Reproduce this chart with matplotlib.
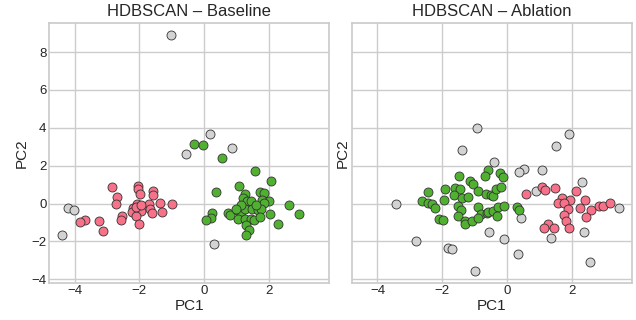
import matplotlib
matplotlib.use("Agg")
import matplotlib.pyplot as plt
import seaborn as sns

sns.set_theme(style="whitegrid")
plt.rcParams['font.family'] = ['Liberation Sans', 'DejaVu Sans']

red = "#f77189"
green = "#50b131"
grey = "#d3d3d3"

# Baseline clusters
base_noise_x = [-4.20, -4.03, -4.39, 0.18, -0.57, 0.87, 0.29, -1.03]
base_noise_y = [-0.25, -0.32, -1.67, 3.68, 2.63, 2.93, -2.14, 8.89]

base_c0_x = [-2.85, -2.03, -2.03, -1.57, -1.59, -1.98, -2.70, -2.73, -2.07, -1.71,
             -1.37, -1.00, -2.19, -1.94, -1.68, -1.60, -1.31, -2.23, -2.11, -2.54,
             -2.58, -2.02, -3.25, -3.69, -3.84, -3.12, -2.09, -1.94]
base_c0_y = [0.86, 0.91, 0.79, 0.65, 0.47, 0.51, 0.33, 0.00, -0.04, 0.00,
             0.05, -0.02, -0.26, -0.39, -0.28, -0.51, -0.47, -0.44, -0.67, -0.63,
             -0.88, -1.10, -0.93, -0.88, -0.96, -1.46, -0.19, -0.05]

base_c1_x = [-0.30, -0.02, 0.54, 1.56, 2.06, 1.09, 0.37, 1.72, 1.86, 1.25,
             1.20, 1.34, 1.46, 1.79, 2.00, 1.85, 2.61, 2.92, 2.04, 2.29,
             0.23, 0.20, 0.05, 0.73, 0.80, 1.03, 1.15, 1.26, 1.48, 1.65,
             1.76, 1.05, 1.27, 1.46, 1.55, 1.74, 1.29, 1.40, 1.29, 1.13,
             1.60, 1.00]
base_c1_y = [3.12, 3.07, 2.42, 1.70, 1.19, 0.95, 0.61, 0.60, 0.58, 0.49,
             0.30, 0.12, 0.16, 0.19, 0.16, 0.02, -0.07, -0.56, -0.54, -1.09,
             -0.51, -0.77, -0.88, -0.51, -0.58, -0.35, -0.47, -0.28, -0.28, -0.33,
             -0.28, -0.84, -0.79, -0.79, -0.88, -0.70, -1.12, -1.42, -1.65, -0.10,
             -0.10, -0.28]

# Ablation clusters
abl_noise_x = [-0.91, -1.39, -3.44, -2.81, -1.81, -1.71, -0.98, -0.56, 1.93, 1.52,
               -0.39, 0.54, 0.37, 1.08, 2.31, 0.90, 3.47, 0.42, -0.09, 1.37,
               2.37, 0.34, 2.58]
abl_noise_y = [4.00, 2.85, -0.02, -1.97, -2.36, -2.39, -3.58, -1.51, 3.67, 3.06,
               2.21, 1.82, 1.65, 1.77, 1.12, 0.67, -0.21, -0.78, -1.86, -1.81,
               -1.51, -2.66, -3.07]

abl_c0_x = [0.60, 1.08, 1.19, 1.49, 2.14, 1.70, 1.96, 2.40, 1.57, 1.77,
            1.88, 2.27, 2.61, 2.83, 2.98, 3.17, 1.77, 2.43, 1.83, 1.27,
            1.15, 1.46, 1.91]
abl_c0_y = [0.51, 0.88, 0.74, 0.83, 0.65, 0.30, 0.21, 0.19, 0.02, 0.02,
            -0.30, -0.23, -0.36, -0.13, -0.11, 0.02, -0.59, -0.69, -0.94, -1.08,
            -1.30, -1.30, -1.28]

abl_c1_x = [-1.49, -1.15, -1.05, -0.60, -0.68, -2.43, -1.91, -1.60, -1.45, -1.65,
            -1.40, -1.21, -0.90, -0.65, -1.95, -2.63, -2.43, -2.30, -2.23, -1.51,
            -1.42, -1.51, -0.90, -0.80, -0.62, -2.11, -1.98, -1.31, -1.31, -1.09,
            -0.90, -0.50, -0.20, -0.11, -0.44, -0.33, -0.19, -0.57, -0.44, -0.27,
            -0.08, -0.30, 0.30, 0.37]
abl_c1_y = [1.45, 1.17, 1.01, 1.77, 1.45, 0.60, 0.76, 0.80, 0.76, 0.44,
            0.27, 0.37, 0.64, 0.53, 0.18, 0.11, 0.05, -0.04, -0.25, -0.14,
            -0.32, -0.66, -0.16, -0.53, -0.48, -0.80, -0.87, -0.90, -1.10, -0.94,
            -0.77, 0.44, 1.60, 1.38, 0.40, 0.76, 0.88, -0.45, -0.37, -0.18,
            -0.14, -0.66, -0.18, -0.32]

fig, axes = plt.subplots(1, 2, figsize=(6.36, 3.2), dpi=100, sharex=True, sharey=True)
fig.subplots_adjust(left=0.0775, right=0.9937, top=0.927, bottom=0.115, wspace=0.082)

panels = [
    ("HDBSCAN – Baseline", base_noise_x, base_noise_y, base_c0_x, base_c0_y, base_c1_x, base_c1_y),
    ("HDBSCAN – Ablation", abl_noise_x, abl_noise_y, abl_c0_x, abl_c0_y, abl_c1_x, abl_c1_y),
]

for ax, (title, nx, ny, ax0, ay0, ax1, ay1) in zip(axes, panels):
    kw = dict(s=42, edgecolor="#333333", linewidth=0.6)
    ax.scatter(nx, ny, color=grey, **kw)
    ax.scatter(ax0, ay0, color=red, **kw)
    ax.scatter(ax1, ay1, color=green, **kw)
    ax.set_title(title, fontsize=12, pad=5)
    ax.set_xlabel("PC1", fontsize=11, labelpad=1)
    ax.set_ylabel("PC2", fontsize=11, labelpad=2)
    ax.tick_params(labelsize=9.5, length=0)
    ax.tick_params(axis="x", pad=1.5)
    ax.tick_params(axis="y", pad=2)

plt.savefig("out.png")
